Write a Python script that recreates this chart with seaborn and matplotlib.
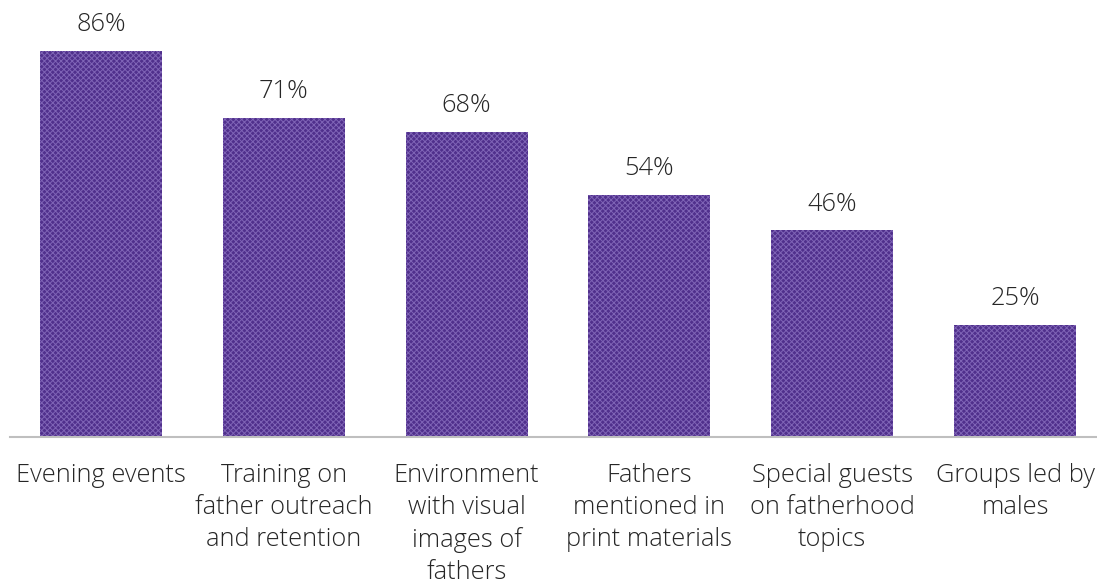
import matplotlib
matplotlib.use("Agg")
import matplotlib.pyplot as plt
import seaborn as sns
import pandas as pd

categories = [
    "Evening events",
    "Training on\nfather outreach\nand retention",
    "Environment\nwith visual\nimages of\nfathers",
    "Fathers\nmentioned in\nprint materials",
    "Special guests\non fatherhood\ntopics",
    "Groups led by\nmales",
]
percent = [86, 71, 68, 54, 46, 25]

sns.set_theme(style="white")
plt.rcParams["font.family"] = ["Open Sans", "DejaVu Sans"]
plt.rcParams["hatch.linewidth"] = 0.7

df = pd.DataFrame({"category": categories, "percent": percent})

W, H = 1097, 583
fig = plt.figure(figsize=(W / 100, H / 100), dpi=100)
ax = fig.add_axes([9.5 / W, 146 / H, 1097 / W, 426.6 / H])

sns.barplot(data=df, x="category", y="percent", color="#50308c",
            saturation=1, width=0.667, ax=ax)
# fine lattice texture on the bars
for p in ax.patches:
    p.set_hatch("xxxxxx")
    p.set_edgecolor("#7f64b6")
    p.set_linewidth(0)

ax.set_ylim(0, 95)
ax.set_xlim(-0.5, 5.5)
ax.set_xlabel("")
ax.set_ylabel("")
ax.set_yticks([])
for s in ["top", "left", "right"]:
    ax.spines[s].set_visible(False)
ax.spines["bottom"].set_color("#bfbfbf")
ax.spines["bottom"].set_linewidth(1.5)

ax.tick_params(axis="x", length=0, pad=19, labelsize=18.3, labelcolor="#262626")
for t in ax.get_xticklabels():
    t.set_fontweight("light")
    t.set_linespacing(1.35)
    t.set_verticalalignment("top")

labels = ax.bar_label(ax.containers[0], labels=[f"{v}%" for v in percent],
                      padding=10, fontsize=18.3, color="#262626")
for t in labels:
    t.set_fontweight("light")

fig.savefig("out.png", dpi=100)
